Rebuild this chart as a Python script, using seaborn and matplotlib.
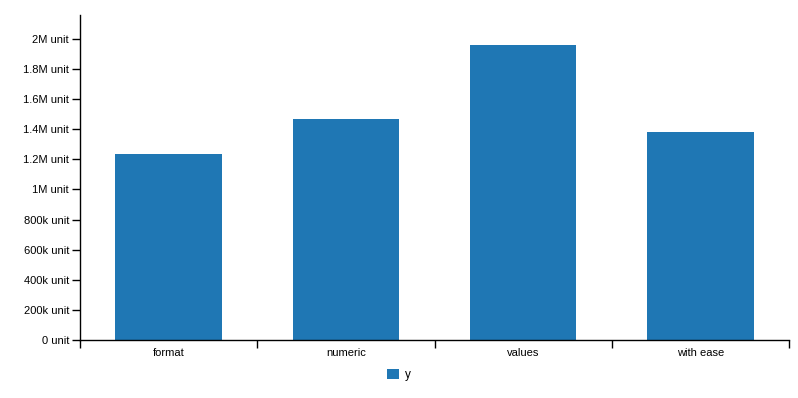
import matplotlib
matplotlib.use("Agg")
import matplotlib.pyplot as plt
import seaborn as sns
import pandas as pd
from matplotlib.ticker import FixedLocator, FuncFormatter

categories = ["format", "numeric", "values", "with ease"]
values = [1237000, 1470000, 1963000, 1384000]
series_name = "y"
ytick_values = [0, 200000, 400000, 600000, 800000, 1000000, 1200000, 1400000, 1600000, 1800000, 2000000]

df = pd.DataFrame({"category": categories, "value": values, "series": series_name})

sns.set_style("white")
plt.rcParams["font.family"] = ["Liberation Sans", "DejaVu Sans"]
plt.rcParams["text.color"] = "black"

fig = plt.figure(figsize=(7.98, 3.98), dpi=100)
ax = fig.add_axes([80/798, (398-340)/398, (789-80)/798, (340-15)/398])

sns.barplot(data=df, x="category", y="value", hue="series", palette=["#1f77b4"],
            width=0.6, ax=ax, saturation=1, legend=True, linewidth=0)

ax.set_xlim(-0.5, len(categories) - 0.5)
ax.set_ylim(0, max(values) * 1.1)

def fmt(v, pos):
    if v == 0:
        return "0 unit"
    if v >= 1e6:
        s = f"{v/1e6:g}M"
    else:
        s = f"{v/1e3:g}k"
    return s + " unit"

ax.yaxis.set_major_locator(FixedLocator(ytick_values))
ax.yaxis.set_major_formatter(FuncFormatter(fmt))

edges = [i - 0.5 for i in range(len(categories) + 1)]
ax.set_xticks(edges)
ax.set_xticklabels([""] * len(edges))
ax.set_xticks(range(len(categories)), minor=True)
ax.set_xticklabels(categories, minor=True)
ax.tick_params(axis="x", which="major", length=6, width=1, color="black", direction="out", bottom=True)
ax.tick_params(axis="x", which="minor", length=0, labelsize=8, pad=6, bottom=True, labelcolor="black")
ax.tick_params(axis="y", length=6, width=1, color="black", direction="out", labelsize=8, pad=2,
               left=True, labelcolor="black")

for s in ["top", "right"]:
    ax.spines[s].set_visible(False)
for s in ["left", "bottom"]:
    ax.spines[s].set_color("black")
    ax.spines[s].set_linewidth(1)

ax.set_xlabel("")
ax.set_ylabel("")

leg = ax.legend(loc="center", bbox_to_anchor=(0.5, 23/398), bbox_transform=fig.transFigure,
                frameon=False, fontsize=8.5, handlelength=1.0, handleheight=1.0, handletextpad=0.5)
for t in leg.get_texts():
    t.set_color("black")

fig.savefig("out.png", dpi=100, facecolor="white")
